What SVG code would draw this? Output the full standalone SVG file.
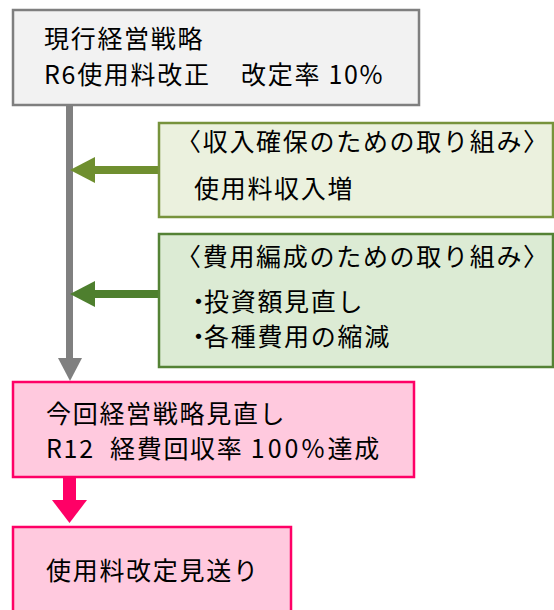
<svg xmlns="http://www.w3.org/2000/svg" width="554" height="610" viewBox="0 0 554 610">
  <style>
    text { font-family: "Noto Sans CJK JP", "Noto Sans", sans-serif; font-size: 25px; letter-spacing: 1.7px; fill: #000; }
    .wide { letter-spacing: 3px; }
    .dot { letter-spacing: -7px; }
    .gray { fill: #f2f2f2; stroke: #7f7f7f; stroke-width: 2.5; }
    .olive { fill: #ebf1de; stroke: #77933c; stroke-width: 2.5; }
    .green { fill: #dcebd4; stroke: #548235; stroke-width: 2.5; }
    .pink { fill: #ffc9de; stroke: #ff0066; stroke-width: 2.5; }
  </style>
  <rect width="554" height="610" fill="#ffffff"/>
  <g id="connectors">
    <rect x="66" y="105" width="7" height="254" fill="#808080"/>
    <polygon points="58,358 82,358 70,381" fill="#808080"/>
    <rect x="94" y="166" width="65" height="8" fill="#6f8f2f"/>
    <polygon points="95,157 95,183 70,170" fill="#6f8f2f"/>
    <rect x="94" y="290" width="65" height="8" fill="#4e7f2e"/>
    <polygon points="95,281 95,307 70,294" fill="#4e7f2e"/>
    <rect x="63" y="477" width="13" height="24" fill="#ff0066"/>
    <polygon points="52,500 87,500 69.5,523" fill="#ff0066"/>
  </g>
  <g id="current-strategy">
    <rect class="gray" x="13" y="10" width="406" height="95"/>
    <text x="44" y="48">現行経営戦略</text>
    <text x="44" y="84"><tspan>R6使用料改正 </tspan><tspan x="241">改定率 10%</tspan></text>
  </g>
  <g id="revenue">
    <rect class="olive" x="159" y="123" width="394" height="94"/>
    <text x="176" y="151">〈収入確保のための取り組み〉</text>
    <text x="194" y="198">使用料収入増</text>
  </g>
  <g id="cost">
    <rect class="green" x="159" y="234" width="394" height="133"/>
    <text x="176" y="266">〈費用編成のための取り組み〉</text>
    <text x="186" y="311"><tspan class="dot">・</tspan><tspan>投資額見直し</tspan></text>
    <text x="186" y="346"><tspan class="dot">・</tspan><tspan>各種費用の縮減</tspan></text>
  </g>
  <g id="review">
    <rect class="pink" x="13" y="382" width="401" height="95"/>
    <text x="46" y="423">今回経営戦略見直し</text>
    <text x="46" y="458"><tspan>R12 </tspan><tspan x="110">経費回収率 </tspan><tspan class="wide">100%</tspan><tspan>達成</tspan></text>
  </g>
  <g id="postpone">
    <rect class="pink" x="13" y="527" width="278" height="90"/>
    <text x="46" y="580">使用料改定見送り</text>
  </g>
</svg>
